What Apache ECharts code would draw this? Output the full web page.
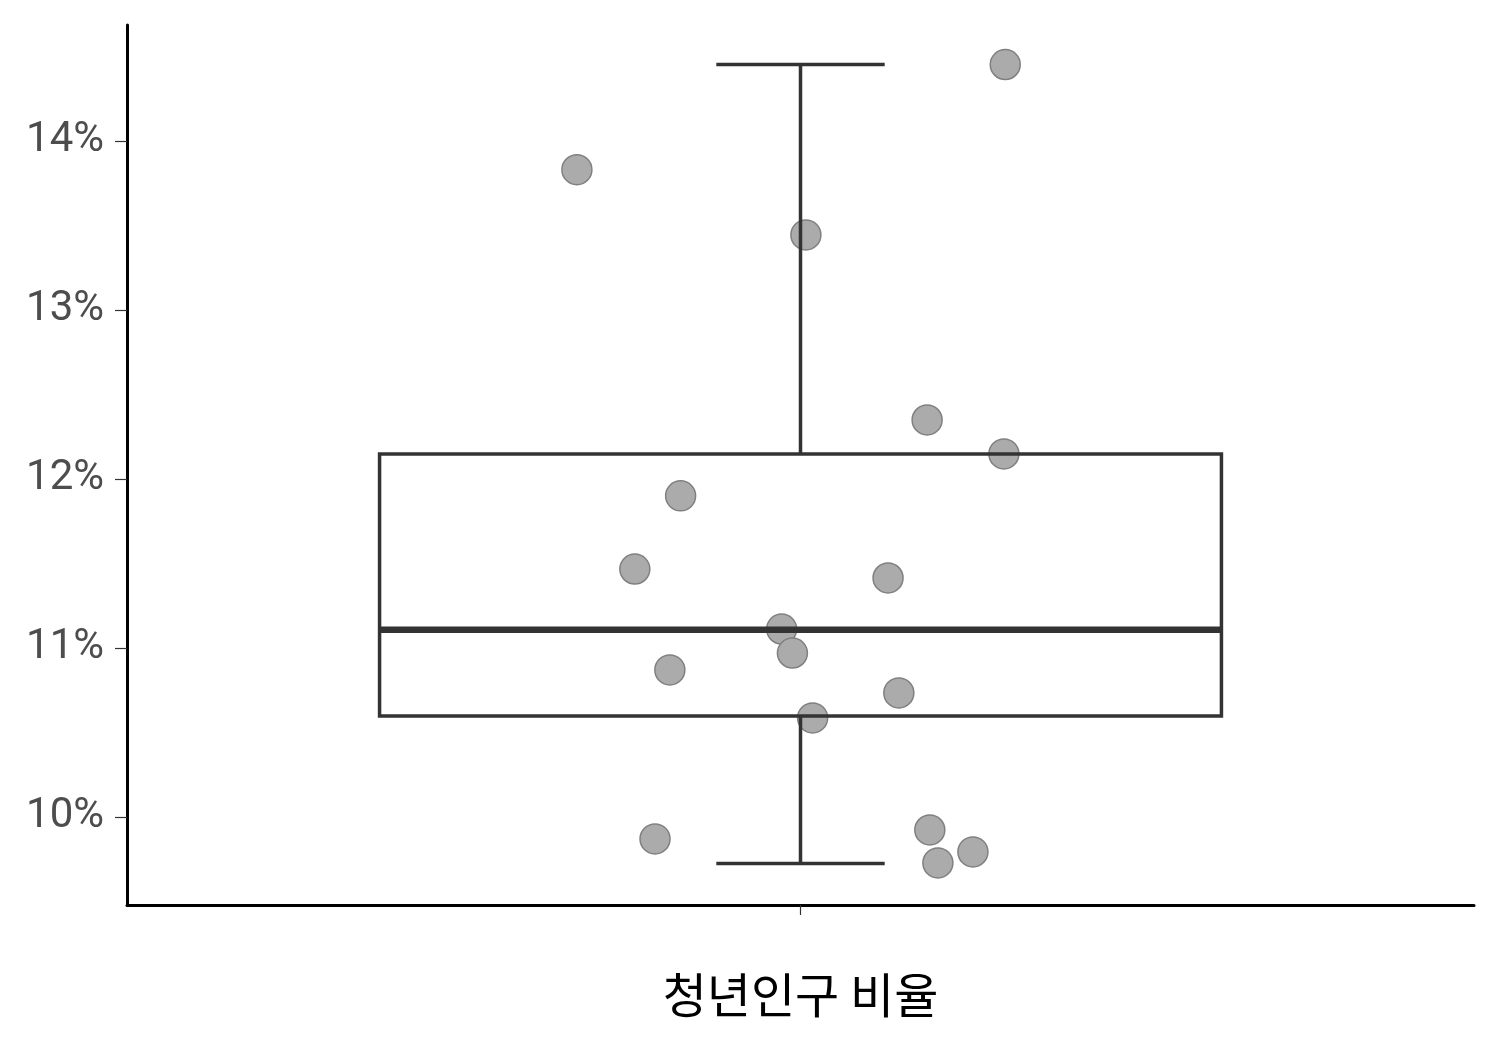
<!DOCTYPE html>
<html>
<head>
<meta charset="utf-8">
<script src="https://cdn.jsdelivr.net/npm/echarts@6/dist/echarts.min.js"></script>
<style>html,body{margin:0;padding:0;background:#fff;}#chart{width:1500px;height:1050px;}</style>
</head>
<body>
<div id="chart"></div>
<script>
const categories = ['청년인구 비율'];
// box statistics: [lower whisker, Q1, median, Q3, upper whisker]
const boxStats = [9.725, 10.598, 11.107, 12.148, 14.452];
// jittered points: horizontal jitter (fraction of band) and value (%)
const jitter = [0.152, -0.166, 0.004, 0.094, 0.151, -0.089, -0.123, 0.065, -0.014, -0.006, -0.097, 0.073, 0.009, -0.108, 0.096, 0.128, 0.102];
const values = [14.452, 13.83, 13.444, 12.349, 12.148, 11.90, 11.467, 11.414, 11.112, 10.97, 10.87, 10.734, 10.586, 9.87, 9.923, 9.793, 9.728];
const yTicks = [10, 11, 12, 13, 14];

const chart = echarts.init(document.getElementById('chart'));
const pointData = values.map((v, i) => [jitter[i], v]);

chart.setOption({
  animation: false,
  backgroundColor: '#ffffff',
  grid: { left: 127, right: 26, top: 25, bottom: 145 },
  xAxis: [
    {
      type: 'category',
      data: categories,
      axisLine: { show: true, onZero: false, lineStyle: { color: '#000', width: 3 } },
      axisTick: { show: true, alignWithLabel: true, length: 10, lineStyle: { color: '#333', width: 1.2 } },
      axisLabel: { margin: 66, fontSize: 48, color: '#000', fontFamily: 'Noto Sans CJK KR' },
      splitLine: { show: false }
    },
    {
      type: 'value',
      min: -0.5, max: 0.5,
      show: false
    }
  ],
  yAxis: {
    type: 'value',
    min: 9.479,
    max: 14.686,
    axisLine: { show: true, onZero: false, lineStyle: { color: '#000', width: 3 } },
    axisTick: { show: true, length: 12, lineStyle: { color: '#333', width: 1.2 }, customValues: yTicks },
    axisLabel: { margin: 23, fontSize: 42, color: '#4d4d4d', fontFamily: 'Roboto', formatter: '{value}%', customValues: yTicks, padding: [6, 0, 0, 0] },
    splitLine: { show: false }
  },
  series: [
    {
      type: 'scatter',
      xAxisIndex: 1,
      data: pointData,
      symbolSize: 30,
      itemStyle: { color: '#ababab', borderColor: '#808080', borderWidth: 1.5, opacity: 1 },
      z: 2
    },
    {
      type: 'custom',
      xAxisIndex: 0,
      data: [[0].concat(boxStats)],
      z: 5,
      renderItem: function (params, api) {
        const idx = api.value(0);
        const band = api.size([1, 0])[0];
        const halfBox = band * 0.3125;
        const halfCap = band * 0.0625;
        const lo = api.coord([idx, api.value(1)]);
        const q1 = api.coord([idx, api.value(2)]);
        const med = api.coord([idx, api.value(3)]);
        const q3 = api.coord([idx, api.value(4)]);
        const hi = api.coord([idx, api.value(5)]);
        const cx = med[0];
        const st = { stroke: '#333333', lineWidth: 3.5, fill: null };
        return {
          type: 'group',
          children: [
            { type: 'line', shape: { x1: cx, y1: q3[1], x2: cx, y2: hi[1] }, style: st },
            { type: 'line', shape: { x1: cx, y1: q1[1], x2: cx, y2: lo[1] }, style: st },
            { type: 'line', shape: { x1: cx - halfCap, y1: hi[1], x2: cx + halfCap, y2: hi[1] }, style: st },
            { type: 'line', shape: { x1: cx - halfCap, y1: lo[1], x2: cx + halfCap, y2: lo[1] }, style: st },
            { type: 'rect', shape: { x: cx - halfBox, y: q3[1], width: halfBox * 2, height: q1[1] - q3[1] }, style: { stroke: '#333333', lineWidth: 3.5, fill: 'none' } },
            { type: 'line', shape: { x1: cx - halfBox, y1: med[1], x2: cx + halfBox, y2: med[1] }, style: { stroke: '#333333', lineWidth: 6.5 } }
          ]
        };
      }
    }
  ]
});
</script>
</body>
</html>
